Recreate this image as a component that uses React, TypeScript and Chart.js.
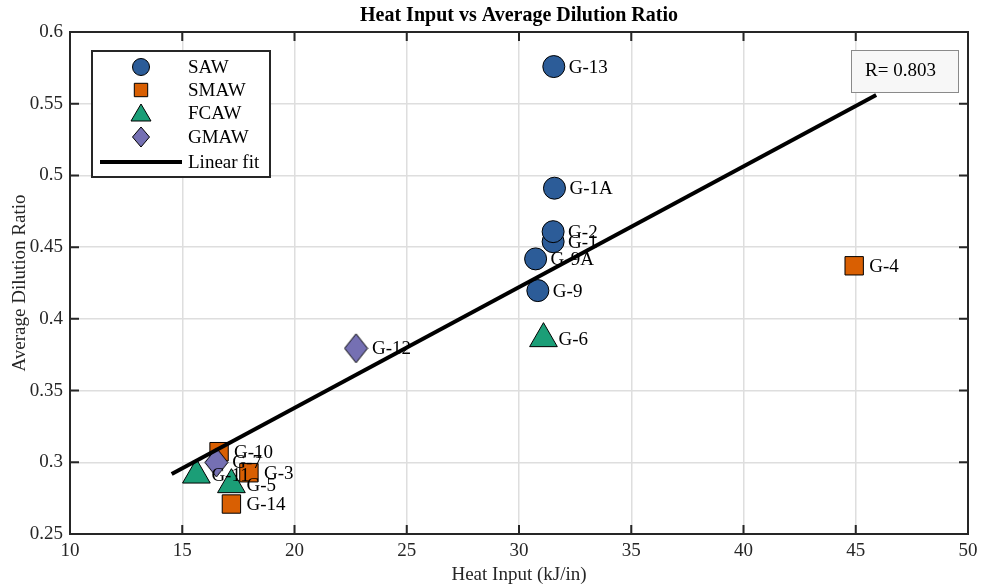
import React, { useEffect, useRef } from 'react';
import { Chart, registerables } from 'chart.js';

Chart.register(...registerables);

// ---- data ----
const sawLabels = ['G-13', 'G-1A', 'G-1', 'G-2', 'G-9A', 'G-9'];
const sawX = [31.55, 31.58, 31.52, 31.52, 30.74, 30.84];
const sawY = [0.5759, 0.4911, 0.4538, 0.4608, 0.4418, 0.4197];

const smawLabels = ['G-4', 'G-10', 'G-3', 'G-14'];
const smawX = [44.93, 16.64, 17.97, 17.19];
const smawY = [0.437, 0.3074, 0.2927, 0.2709];

const fcawLabels = ['G-6', 'G-11', 'G-5'];
const fcawX = [31.09, 15.63, 17.19];
const fcawY = [0.3862, 0.2911, 0.2844];

const gmawLabels = ['G-12', 'G-7'];
const gmawX = [22.74, 16.52];
const gmawY = [0.3795, 0.2999];

const fitX = [14.53, 45.91];
const fitY = [0.2918, 0.556];

const xTicks = [10, 15, 20, 25, 30, 35, 40, 45, 50];
const yTicks = [0.25, 0.3, 0.35, 0.4, 0.45, 0.5, 0.55, 0.6];

const titleText = 'Heat Input vs Average Dilution Ratio';
const xTitle = 'Heat Input (kJ/in)';
const yTitle = 'Average Dilution Ratio';
const rText = 'R= 0.803';
const legendNames = ['SAW', 'SMAW', 'FCAW', 'GMAW', 'Linear fit'];

const C_SAW = '#2C5C98';
const C_SMAW = '#D95F02';
const C_FCAW = '#1B9E77';
const C_GMAW = '#7570B3';
const AXIS = '#262626';
const FONT = '"Liberation Serif", "Times New Roman", serif';

function toPts(xs: number[], ys: number[]) {
  return xs.map((x, i) => ({ x, y: ys[i] }));
}

function makeDiamond(w: number, h: number) {
  const c = document.createElement('canvas');
  c.width = w + 2;
  c.height = h + 2;
  const ctx = c.getContext('2d')!;
  ctx.beginPath();
  ctx.moveTo(c.width / 2, 1);
  ctx.lineTo(c.width - 1, c.height / 2);
  ctx.lineTo(c.width / 2, c.height - 1);
  ctx.lineTo(1, c.height / 2);
  ctx.closePath();
  ctx.fillStyle = C_GMAW;
  ctx.fill();
  ctx.strokeStyle = '#000';
  ctx.lineWidth = 1;
  ctx.stroke();
  return c;
}

function drawMarker(ctx: CanvasRenderingContext2D, kind: string, x: number, y: number, color: string) {
  ctx.save();
  ctx.fillStyle = color;
  ctx.strokeStyle = '#000';
  ctx.lineWidth = 1;
  ctx.beginPath();
  if (kind === 'circle') {
    ctx.arc(x, y, 8.5, 0, Math.PI * 2);
  } else if (kind === 'square') {
    ctx.rect(x - 6.7, y - 6.7, 13.4, 13.4);
  } else if (kind === 'triangle') {
    ctx.moveTo(x, y - 9);
    ctx.lineTo(x + 10, y + 8);
    ctx.lineTo(x - 10, y + 8);
    ctx.closePath();
  } else if (kind === 'diamond') {
    ctx.moveTo(x, y - 10);
    ctx.lineTo(x + 8.5, y);
    ctx.lineTo(x, y + 10);
    ctx.lineTo(x - 8.5, y);
    ctx.closePath();
  }
  ctx.fill();
  ctx.stroke();
  ctx.restore();
}

const customPlugin = {
  id: 'customDecor',
  afterDatasetDraw(chart: any, args: any) {
    const ds = chart.data.datasets[args.index] as any;
    if (!ds.pointLabels) return;
    const ctx = chart.ctx as CanvasRenderingContext2D;
    const meta = chart.getDatasetMeta(args.index);
    ctx.save();
    ctx.font = `19px ${FONT}`;
    ctx.fillStyle = '#000';
    ctx.textAlign = 'left';
    ctx.textBaseline = 'middle';
    meta.data.forEach((el: any, i: number) => {
      ctx.fillText(ds.pointLabels[i], el.x + ds.labelOffset, el.y + 1);
    });
    ctx.restore();
  },
  afterDraw(chart: any) {
    const ctx = chart.ctx as CanvasRenderingContext2D;
    const a = chart.chartArea;
    const xs = chart.scales.x;
    const ys = chart.scales.y;
    ctx.save();
    // inward ticks
    ctx.strokeStyle = AXIS;
    ctx.lineWidth = 2;
    const tl = 9;
    xTicks.forEach((v) => {
      const px = xs.getPixelForValue(v);
      ctx.beginPath();
      ctx.moveTo(px, a.bottom);
      ctx.lineTo(px, a.bottom - tl);
      ctx.moveTo(px, a.top);
      ctx.lineTo(px, a.top + tl);
      ctx.stroke();
    });
    yTicks.forEach((v) => {
      const py = ys.getPixelForValue(v);
      ctx.beginPath();
      ctx.moveTo(a.left, py);
      ctx.lineTo(a.left + tl, py);
      ctx.moveTo(a.right, py);
      ctx.lineTo(a.right - tl, py);
      ctx.stroke();
    });
    // box
    ctx.lineWidth = 2;
    ctx.strokeRect(a.left, a.top, a.right - a.left, a.bottom - a.top);

    // title
    ctx.fillStyle = '#000';
    ctx.font = `bold 20px ${FONT}`;
    ctx.textAlign = 'center';
    ctx.textBaseline = 'middle';
    ctx.fillText(titleText, (a.left + a.right) / 2, 16);

    // axis titles
    ctx.fillStyle = AXIS;
    ctx.font = `19px ${FONT}`;
    ctx.fillText(xTitle, (a.left + a.right) / 2, 575);
    ctx.save();
    ctx.translate(20, (a.top + a.bottom) / 2);
    ctx.rotate(-Math.PI / 2);
    ctx.fillText(yTitle, 0, 0);
    ctx.restore();

    // R box
    ctx.fillStyle = '#f7f7f7';
    ctx.fillRect(851, 50, 107, 42);
    ctx.strokeStyle = '#8a8a8a';
    ctx.lineWidth = 1;
    ctx.strokeRect(851.5, 50.5, 107, 42);
    ctx.fillStyle = '#000';
    ctx.textAlign = 'left';
    ctx.font = `19px ${FONT}`;
    ctx.fillText(rText, 865, 71);

    // legend
    const lx = 92, ly = 51, lw = 178, lh = 126;
    ctx.fillStyle = '#fff';
    ctx.fillRect(lx, ly, lw, lh);
    ctx.strokeStyle = AXIS;
    ctx.lineWidth = 2;
    ctx.strokeRect(lx, ly, lw, lh);
    const rows = [67, 90, 113, 137, 162];
    const kinds = ['circle', 'square', 'triangle', 'diamond'];
    const cols = [C_SAW, C_SMAW, C_FCAW, C_GMAW];
    kinds.forEach((k, i) => drawMarker(ctx, k, 141, rows[i], cols[i]));
    ctx.strokeStyle = '#000';
    ctx.lineWidth = 4;
    ctx.beginPath();
    ctx.moveTo(100, rows[4]);
    ctx.lineTo(182, rows[4]);
    ctx.stroke();
    ctx.fillStyle = '#000';
    ctx.font = `19px ${FONT}`;
    ctx.textAlign = 'left';
    ctx.textBaseline = 'middle';
    legendNames.forEach((n, i) => ctx.fillText(n, 188, rows[i] + 1));
    ctx.restore();
  },
};

export default function App() {
  const ref = useRef<HTMLCanvasElement | null>(null);
  useEffect(() => {
    document.body.style.margin = '0';
    const canvas = ref.current!;
    const diamond = makeDiamond(23, 29);
    const chart = new Chart(canvas, {
      type: 'scatter',
      data: {
        datasets: [
          {
            type: 'line',
            label: 'Linear fit',
            data: toPts(fitX, fitY),
            borderColor: '#000',
            borderWidth: 4,
            pointRadius: 0,
            fill: false,
            order: 0,
          } as any,
          {
            label: 'FCAW',
            data: toPts(fcawX, fcawY),
            pointStyle: 'triangle',
            pointRadius: 16,
            pointHoverRadius: 16,
            backgroundColor: C_FCAW,
            borderColor: '#000',
            borderWidth: 1,
            pointLabels: fcawLabels,
            labelOffset: 15,
            order: 1,
          } as any,
          {
            label: 'GMAW',
            data: toPts(gmawX, gmawY),
            pointStyle: diamond,
            pointRadius: 14,
            backgroundColor: C_GMAW,
            borderColor: '#000',
            borderWidth: 1,
            pointLabels: gmawLabels,
            labelOffset: 16,
            order: 2,
          } as any,
          {
            label: 'SMAW',
            data: toPts(smawX, smawY),
            pointStyle: 'rect',
            pointRadius: 13,
            pointHoverRadius: 13,
            backgroundColor: C_SMAW,
            borderColor: '#000',
            borderWidth: 1,
            pointLabels: smawLabels,
            labelOffset: 15,
            order: 3,
          } as any,
          {
            label: 'SAW',
            data: toPts(sawX, sawY),
            pointStyle: 'circle',
            pointRadius: 11,
            pointHoverRadius: 11,
            backgroundColor: C_SAW,
            borderColor: '#000',
            borderWidth: 1,
            pointLabels: sawLabels,
            labelOffset: 15,
            order: 4,
          } as any,
        ],
      },
      options: {
        responsive: false,
        animation: false,
        events: [],
        layout: { padding: { top: 32, right: 15, left: 0, bottom: 0 } },
        plugins: {
          legend: { display: false },
          title: { display: false },
          tooltip: { enabled: false },
        },
        scales: {
          x: {
            type: 'linear',
            min: 10,
            max: 50,
            afterBuildTicks: (s: any) => {
              s.ticks = xTicks.map((v) => ({ value: v }));
            },
            afterFit: (s: any) => {
              s.height = 54;
            },
            ticks: {
              color: AXIS,
              font: { family: FONT, size: 19 },
              padding: 6,
              maxRotation: 0,
              autoSkip: false,
            },
            grid: { color: '#dedede', lineWidth: 1.5, drawTicks: false },
            border: { display: false },
          },
          y: {
            type: 'linear',
            min: 0.25,
            max: 0.6,
            afterBuildTicks: (s: any) => {
              s.ticks = yTicks.map((v) => ({ value: v }));
            },
            afterFit: (s: any) => {
              s.width = 70;
            },
            ticks: {
              color: AXIS,
              font: { family: FONT, size: 19 },
              padding: 7,
              autoSkip: false,
              callback: (v: any) => String(Number(Number(v).toFixed(2))),
            },
            grid: { color: '#dedede', lineWidth: 1.5, drawTicks: false },
            border: { display: false },
          },
        },
      },
      plugins: [customPlugin as any],
    });
    return () => chart.destroy();
  }, []);
  return (
    <div style={{ width: 985, height: 588, background: '#fff' }}>
      <canvas ref={ref} width={985} height={588} style={{ display: 'block' }} />
    </div>
  );
}
